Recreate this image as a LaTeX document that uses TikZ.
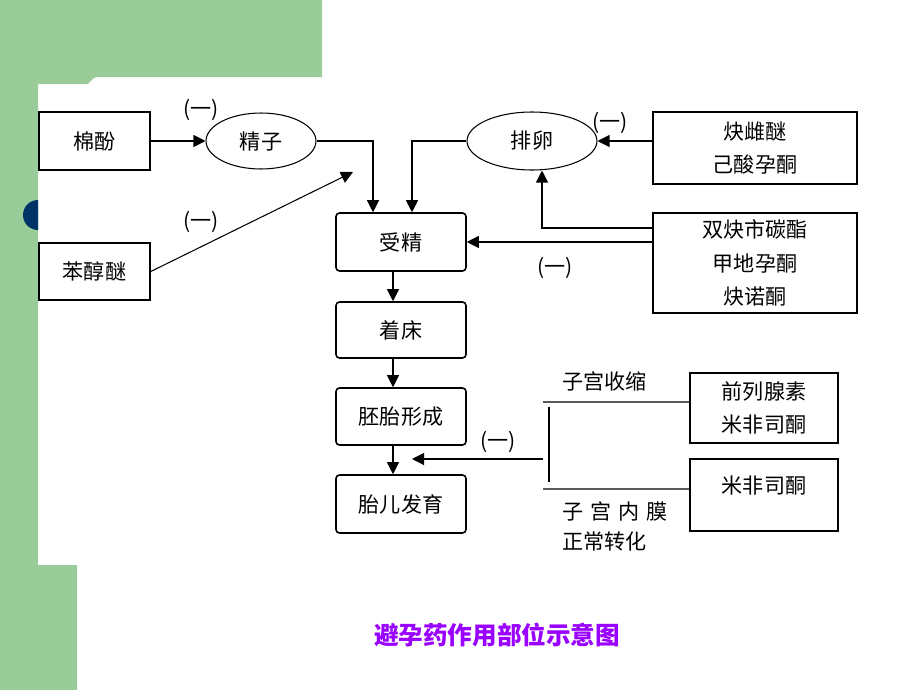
\documentclass[tikz,border=0pt]{standalone}
\usepackage{fontspec}
\newfontfamily\cjk{Noto Sans CJK SC}
\usetikzlibrary{arrows.meta, shapes.geometric}
\definecolor{slidegreen}{RGB}{153,204,153}
\definecolor{dotblue}{RGB}{0,51,102}
\definecolor{titlepurple}{RGB}{153,0,255}

\begin{document}
\begin{tikzpicture}[x=0.02cm, y=-0.02cm,
  every node/.style={font=\cjk\fontsize{12}{15}\selectfont},
  drug/.style={draw, line width=0.9pt, inner sep=0pt, align=center},
  stage/.style={draw, line width=0.9pt, rounded corners=2pt, inner sep=0pt, minimum width=2.6cm},
  cell/.style={draw, ellipse, line width=0.6pt, inner sep=0pt},
  arr/.style={line width=0.6pt, -{Triangle[length=2.4mm,width=2.4mm]}},
  ln/.style={line width=0.6pt}]
\useasboundingbox (0,0) rectangle (920,690);

% Slide background
\fill[slidegreen] (0,0) -- (322,0) -- (322,77) -- (98,77) to[out=180,in=45] (88,84) -- (38,84)
  -- (38,565) -- (77,565) -- (77,690) -- (0,690) -- cycle;
\begin{scope}
\clip (0,0) rectangle (38,690);
\fill[dotblue] (38,215) circle (0.3cm);
\end{scope}

% Drugs (left and right)
\node[drug, minimum width=2.22cm, minimum height=1.16cm] (mianfen) at (94.5,141) {棉酚};
\node[drug, minimum width=2.22cm, minimum height=1.14cm] (benchun) at (94.5,271.5) {苯醇醚};
\node[drug, minimum width=4.08cm, minimum height=1.44cm] (quecimi) at (755,148) {炔雌醚\\[0.15cm]己酸孕酮};
\node[drug, minimum width=4.08cm, minimum height=2cm] (shuangque) at (755,263) {双炔市碳酯\\[0.15cm]甲地孕酮\\[0.15cm]炔诺酮};
\node[drug, minimum width=2.96cm, minimum height=1.4cm] (qianlie) at (764,408) {前列腺素\\[0.15cm]米非司酮};
\node[drug, minimum width=2.96cm, minimum height=1.44cm,
  label={[anchor=north, yshift=-0.22cm]north:米非司酮}] (mifei) at (764,495) {};

% Cells
\node[cell, minimum width=2.2cm, minimum height=1.12cm] (jingzi) at (261,141) {精子};
\node[cell, minimum width=2.6cm, minimum height=1.16cm] (pailuan) at (532,141) {排卵};

% Stages
\node[stage, minimum height=1.16cm] (shoujing) at (401,242) {受精};
\node[stage, minimum height=1.12cm] (zhuochuang) at (401,330) {着床};
\node[stage, minimum height=1.14cm] (peitai) at (401,416.5) {胚胎形成};
\node[stage, minimum height=1.16cm] (taier) at (401,504) {胎儿发育};

% Free ends
\coordinate (bctip) at (353,172);
\coordinate (up) at (543,402);
\coordinate (lo) at (543,489);
\coordinate (vt) at (549,407);
\coordinate (vb) at (549,482);
\coordinate (mid) at (543,459);
\coordinate (midtip) at (412,459);

% Arrows
\draw[arr] (mianfen.east) -- (jingzi.west);
\draw[arr] (benchun.east) -- (bctip);
\draw[arr] (jingzi.east) -| ([xshift=-0.56cm]shoujing.north);
\draw[arr] (pailuan.west) -| ([xshift=0.22cm]shoujing.north);
\draw[arr] (quecimi.west |- pailuan.east) -- (pailuan.east);
\draw[arr] ([yshift=0.7cm]shuangque.west) -| ([xshift=0.2cm]pailuan.south);
\draw[arr] (shuangque.west |- shoujing.east) -- (shoujing.east);
\draw[arr] ([xshift=-0.16cm]shoujing.south) -- ([xshift=-0.16cm]zhuochuang.north);
\draw[arr] ([xshift=-0.16cm]zhuochuang.south) -- ([xshift=-0.16cm]peitai.north);
\draw[arr] ([xshift=-0.16cm]peitai.south) -- ([xshift=-0.16cm]taier.north);
\draw[arr] (mid) -- (midtip);

% Uterus lines
\draw[ln] ([yshift=0.12cm]qianlie.west) -- (up);
\draw[ln] ([yshift=0.12cm]mifei.west) -- (lo);
\draw[ln] (vt) -- (vb);

% Labels
\node at (201,110) {(一)};
\node at (201,222) {(一)};
\node at (610,123) {(一)};
\node at (555,268) {(一)};
\node at (498,442) {(一)};
\node[anchor=west] at (556,381) {子宫收缩};
\node[anchor=west] at (556,511) {子\,\,宫\,\,内\,\,膜};
\node[anchor=west] at (556,541) {正常转化};

% Title
\node[font=\cjk\bfseries\fontsize{14}{16}\selectfont, text=titlepurple] at (497,635) {避孕药作用部位示意图};
\end{tikzpicture}
\end{document}
